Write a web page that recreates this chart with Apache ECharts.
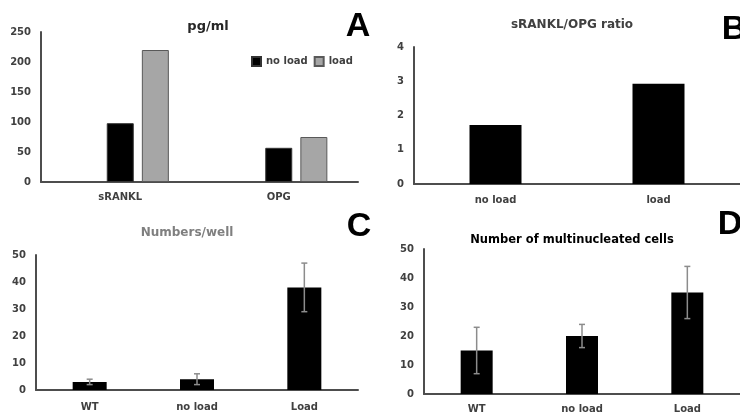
<!DOCTYPE html>
<html>
<head>
<meta charset="utf-8">
<script src="https://cdn.jsdelivr.net/npm/echarts@6/dist/echarts.min.js"></script>
<style>
  html, body { margin: 0; padding: 0; background: #fff; }
  #chart { width: 740px; height: 416px; }
</style>
</head>
<body>
<div id="chart"></div>
<script>
// panel A: pg/ml
var catsA = ['sRANKL', 'OPG']
var noLoadA = [98, 57]
var loadA = [220, 75]

// panel B: sRANKL/OPG ratio
var catsB = ['no load', 'load']
var ratioB = [1.72, 2.93]

// panel C: numbers/well
var catsC = ['WT', 'no load', 'Load']
var meanC = [3, 4, 38]
var errC = [1, 2, 9]

// panel D: number of multinucleated cells
var catsD = ['WT', 'no load', 'Load']
var meanD = [15, 20, 35]
var errD = [8, 4, 9]

var axisColor = '#404040'
var labelFont = '"DejaVu Sans", sans-serif'

function xAxisFor (idx, cats, margin) {
  return {
    type: 'category',
    gridIndex: idx,
    data: cats,
    axisLine: { lineStyle: { color: '#4d4d4d', width: 2 } },
    axisTick: { show: false },
    axisLabel: { color: axisColor, fontWeight: 'bold', fontSize: 10, fontFamily: labelFont, margin: margin }
  }
}

function yAxisFor (idx, max, interval) {
  return {
    type: 'value',
    gridIndex: idx,
    min: 0,
    max: max,
    interval: interval,
    splitLine: { show: false },
    axisTick: { show: false },
    axisLine: { show: true, lineStyle: { color: '#4d4d4d', width: 2 } },
    axisLabel: { color: axisColor, fontWeight: 'bold', fontSize: 10, fontFamily: labelFont, margin: 10 }
  }
}

function errorSeries (idx, means, errs) {
  return {
    type: 'custom',
    xAxisIndex: idx,
    yAxisIndex: idx,
    z: 5,
    data: means.map(function (m, i) { return [i, m, errs[i]] }),
    renderItem: function (params, api) {
      var i = api.value(0)
      var m = api.value(1)
      var e = api.value(2)
      var top = api.coord([i, m + e])
      var bot = api.coord([i, m - e])
      var style = { stroke: '#8c8c8c', lineWidth: 1.5 }
      return {
        type: 'group',
        children: [
          { type: 'line', shape: { x1: top[0], y1: top[1], x2: bot[0], y2: bot[1] }, style: style },
          { type: 'line', shape: { x1: top[0] - 3, y1: top[1], x2: top[0] + 3, y2: top[1] }, style: style },
          { type: 'line', shape: { x1: bot[0] - 3, y1: bot[1], x2: bot[0] + 3, y2: bot[1] }, style: style }
        ]
      }
    }
  }
}

function textEl (x, y, text, size, color, family) {
  return {
    type: 'text',
    x: x,
    y: y,
    style: {
      text: text,
      fill: color,
      font: 'bold ' + size + 'px ' + family,
      textAlign: 'center',
      textVerticalAlign: 'middle'
    }
  }
}

var letterFont = '"Liberation Sans", Arial, sans-serif'

var option = {
  animation: false,
  backgroundColor: '#fff',
  grid: [
    { left: 41, top: 32, width: 317, height: 150 },
    { left: 414, top: 47, width: 326, height: 137 },
    { left: 36, top: 255, width: 322, height: 135 },
    { left: 424, top: 249, width: 316, height: 145 }
  ],
  xAxis: [
    xAxisFor(0, catsA, 10),
    xAxisFor(1, catsB, 11),
    xAxisFor(2, catsC, 12),
    xAxisFor(3, catsD, 10)
  ],
  yAxis: [
    yAxisFor(0, 250, 50),
    yAxisFor(1, 4, 1),
    yAxisFor(2, 50, 10),
    yAxisFor(3, 50, 10)
  ],
  legend: {
    data: ['no load', 'load'],
    left: 246,
    top: 51,
    icon: 'rect',
    itemWidth: 9,
    itemHeight: 9,
    itemGap: 6,
    textStyle: { color: axisColor, fontWeight: 'bold', fontSize: 10, fontFamily: labelFont }
  },
  graphic: [
    textEl(208, 27, 'pg/ml', 13, '#262626', labelFont),
    textEl(572, 25, 'sRANKL/OPG ratio', 12, axisColor, labelFont),
    textEl(187, 233, 'Numbers/well', 12, '#7f7f7f', labelFont),
    textEl(572, 240, 'Number of multinucleated cells', 11.5, '#000', labelFont),
    textEl(358, 27, 'A', 34, '#000', letterFont),
    textEl(734, 30, 'B', 34, '#000', letterFont),
    textEl(359, 227, 'C', 34, '#000', letterFont),
    textEl(730, 225, 'D', 34, '#000', letterFont)
  ],
  series: [
    // empty first series keeps the Excel-style offset of the bar pairs
    { type: 'bar', name: '', xAxisIndex: 0, yAxisIndex: 0, data: ['-', '-'], barWidth: 27, barGap: '30%' },
    {
      type: 'bar', name: 'no load', xAxisIndex: 0, yAxisIndex: 0, data: noLoadA, barWidth: 27, barGap: '30%',
      itemStyle: { color: '#000', borderColor: '#333', borderWidth: 1 }
    },
    {
      type: 'bar', name: 'load', xAxisIndex: 0, yAxisIndex: 0, data: loadA, barWidth: 27, barGap: '30%',
      itemStyle: { color: '#a6a6a6', borderColor: '#595959', borderWidth: 1 }
    },
    {
      type: 'bar', name: 'ratio', xAxisIndex: 1, yAxisIndex: 1, data: ratioB, barWidth: 52,
      itemStyle: { color: '#000' }
    },
    {
      type: 'bar', name: 'C', xAxisIndex: 2, yAxisIndex: 2, data: meanC, barWidth: 34,
      itemStyle: { color: '#000' }
    },
    errorSeries(2, meanC, errC),
    {
      type: 'bar', name: 'D', xAxisIndex: 3, yAxisIndex: 3, data: meanD, barWidth: 32,
      itemStyle: { color: '#000' }
    },
    errorSeries(3, meanD, errD)
  ]
}

var chart = echarts.init(document.getElementById('chart'))
chart.setOption(option)
</script>
</body>
</html>
